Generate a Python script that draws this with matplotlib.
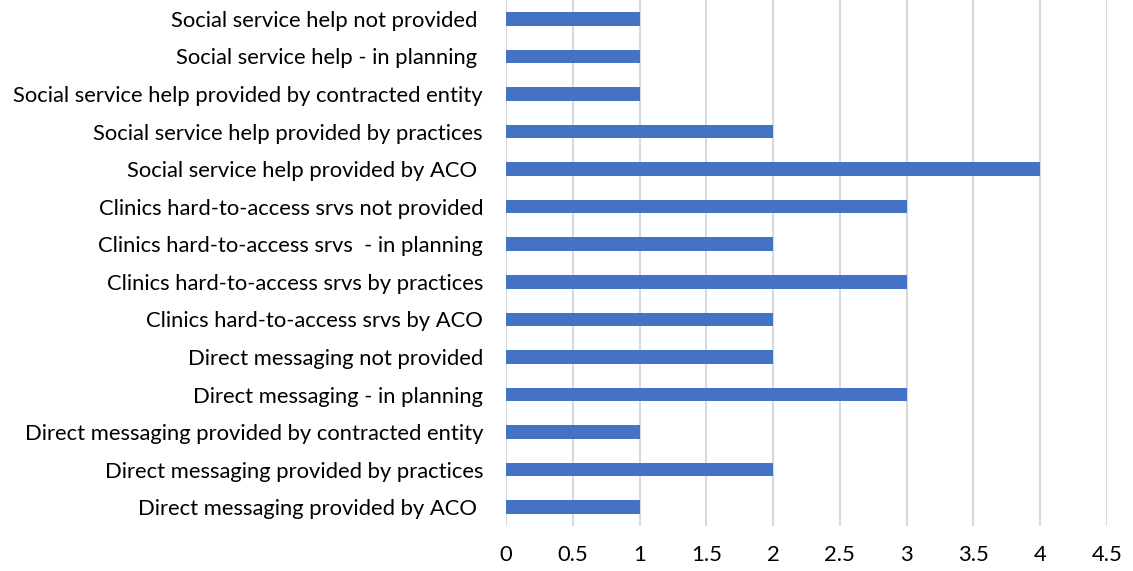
import matplotlib
matplotlib.use("Agg")
import matplotlib.pyplot as plt

# categories listed bottom to top, as the bars are drawn
categories = [
    "Direct messaging provided by ACO ",
    "Direct messaging provided by practices",
    "Direct messaging provided by contracted entity",
    "Direct messaging - in planning",
    "Direct messaging not provided",
    "Clinics hard-to-access srvs by ACO",
    "Clinics hard-to-access srvs by practices",
    "Clinics hard-to-access srvs  - in planning",
    "Clinics hard-to-access srvs not provided",
    "Social service help provided by ACO ",
    "Social service help provided by practices",
    "Social service help provided by contracted entity",
    "Social service help - in planning ",
    "Social service help not provided ",
]
counts = [1, 2, 1, 3, 2, 2, 3, 2, 3, 4, 2, 1, 1, 1]
x_ticks = [0, 0.5, 1, 1.5, 2, 2.5, 3, 3.5, 4, 4.5]
x_tick_labels = ["0", "0.5", "1", "1.5", "2", "2.5", "3", "3.5", "4", "4.5"]

plt.rcParams['font.family'] = ['Lato', 'DejaVu Sans']

fig = plt.figure(figsize=(11.33, 5.71), dpi=100)
ax = fig.add_axes([0.4466, 0.0788, 0.5305, 0.9212])

ax.barh(range(len(categories)), counts, height=0.36, color="#4472C4", zorder=3)

ax.set_xlim(0, 4.5)
ax.set_ylim(-0.5, len(categories) - 0.5)
ax.set_xticks(x_ticks)
ax.set_xticklabels(x_tick_labels)
ax.set_yticks(range(len(categories)))
ax.set_yticklabels(categories)

ax.grid(axis="x", color="#D9D9D9", linewidth=1.5, zorder=0)
ax.tick_params(axis="both", length=0, labelsize=15.8, colors="black")
ax.tick_params(axis="y", pad=16.5)
ax.tick_params(axis="x", pad=14)
for spine in ax.spines.values():
    spine.set_visible(False)

fig.savefig("out.png", dpi=100)
